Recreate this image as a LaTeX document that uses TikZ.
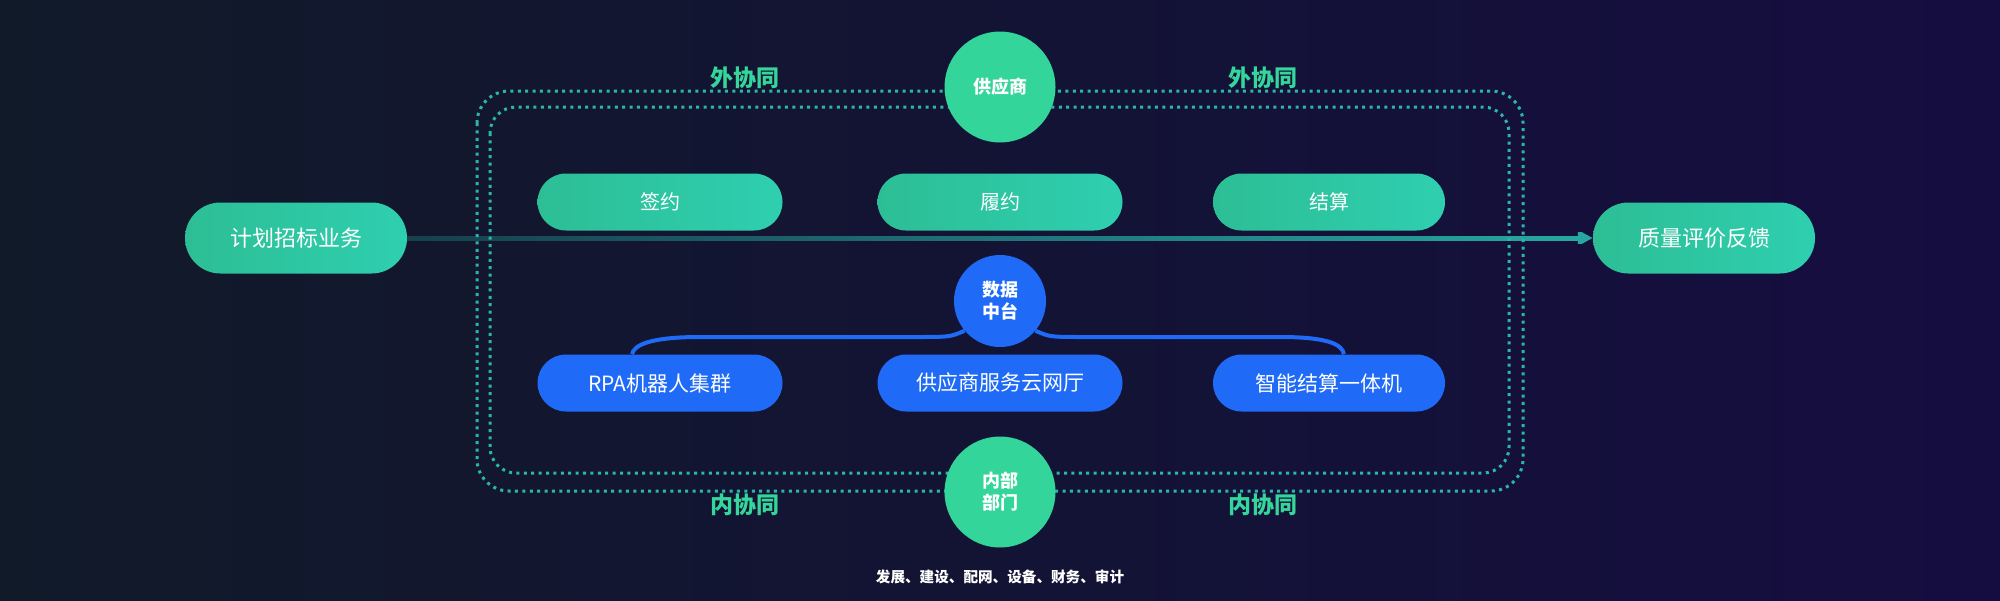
\documentclass[tikz,border=0pt]{standalone}
\usepackage{fontspec}
\setmainfont{Noto Sans CJK SC}
\usetikzlibrary{arrows.meta,calc,positioning,fadings}

\definecolor{bgleft}{HTML}{111A29}
\definecolor{bgright}{HTML}{150D40}
\definecolor{pillA}{HTML}{2DBE95}
\definecolor{pillB}{HTML}{2ECFB0}
\definecolor{hubgreen}{HTML}{33D59A}
\definecolor{hubblue}{HTML}{1F6BF7}
\definecolor{taggreen}{HTML}{35D69B}
\definecolor{dotteal}{HTML}{2BB6A9}
\definecolor{flowteal}{HTML}{27A9A1}

\tikzfading[name=flowfade, left color=transparent!72, right color=transparent!0]

\begin{document}
\begin{tikzpicture}[
    x=0.5pt, y=-0.5pt,
    font=\fontsize{10pt}{12pt}\selectfont,
    pill/.style={rounded corners=14.25pt, minimum height=28.5pt, minimum width=122.5pt, inner sep=0pt, text=white},
    gpill/.style={pill, left color=pillA, right color=pillB},
    bpill/.style={pill, fill=hubblue},
    endpill/.style={gpill, minimum width=111pt, minimum height=35.5pt, rounded corners=17.75pt, font=\fontsize{11pt}{13pt}\selectfont},
    hub/.style={circle, inner sep=0pt, text=white, align=center, font=\fontsize{9pt}{11pt}\selectfont\bfseries},
    ghub/.style={hub, fill=hubgreen, minimum size=55.5pt},
    bhub/.style={hub, fill=hubblue, minimum size=46pt},
    tag/.style={text=taggreen, font=\fontsize{11.5pt}{13pt}\selectfont\bfseries},
    ring/.style={draw=dotteal, line width=1.5pt, dash pattern=on 1.5pt off 2.2pt},
    flow/.style={draw=flowteal, line width=2.5pt, -{Triangle[length=7.5pt, width=7.5pt]}, path fading=flowfade},
    link/.style={draw=hubblue, line width=2pt},
]
\useasboundingbox (0,0) rectangle (2000,600);
\shade[left color=bgleft, right color=bgright] (0,0) rectangle (2000,600);

% process ends
\node[endpill] (plan) at (296,238) {计划招标业务};
\node[endpill] (feedback) at (1704,238) {质量评价反馈};

% business steps
\node[gpill] (sign) at (660,202) {签约};
\node[gpill] (perform) at (1000,202) {履约};
\node[gpill, minimum width=116pt] (settle) at (1329,202) {结算};

% systems
\node[bpill, font=\fontsize{10.5pt}{12pt}\selectfont] (rpa) at (660,383) {RPA机器人集群};
\node[bpill, font=\fontsize{10.5pt}{12pt}\selectfont] (portal) at (1000,383) {供应商服务云网厅};
\node[bpill, minimum width=116pt, font=\fontsize{10.5pt}{12pt}\selectfont] (kiosk) at (1329,383) {智能结算一体机};

% main flow
\draw[flow] (plan) -- (feedback);

% collaboration rings
\draw[ring, rounded corners=16pt] (477,91) rectangle (1523,491);
\draw[ring, rounded corners=13pt] (490,107) rectangle (1509,473);

% hubs
\node[ghub] (supplier) at (1000,87) {供应商};
\node[bhub] (data) at (1000,301) {数据\\中台};
\node[ghub] (internal) at (1000,492) {内部\\部门};

% data links
\draw[link] (data.220) .. controls (950,337) .. (915,337) -- (700,337)
    .. controls (650,337) and (634,345) .. ($(rpa.north)+(-28,0)$);
\draw[link] (data.320) .. controls (1050,337) .. (1085,337) -- (1280,337)
    .. controls (1330,337) and (1342,345) .. ($(kiosk.north)+(15,0)$);

% labels
\node[tag] (extL) at (745,78) {外协同};
\node[tag] (extR) at (1263,78) {外协同};
\node[tag] (intL) at (745,505) {内协同};
\node[tag] (intR) at (1263,505) {内协同};
\node[text=white, font=\fontsize{7.3pt}{9pt}\selectfont\bfseries] (depts) at (1000,577) {发展、建设、配网、设备、财务、审计};
\end{tikzpicture}
\end{document}
